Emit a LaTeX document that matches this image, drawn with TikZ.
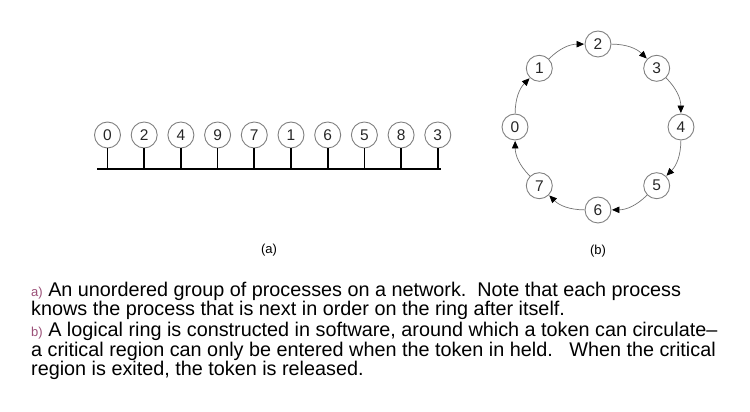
\documentclass[tikz,border=0pt]{standalone}
\usepackage{fontspec}
\setmainfont{Liberation Sans}
\usetikzlibrary{positioning, arrows.meta, calc}
\definecolor{tagcol}{RGB}{155,80,120}
\newcommand{\tagl}[1]{{\fontsize{13}{13}\selectfont\color{tagcol}#1)}}

\begin{document}
\begin{tikzpicture}[x=1pt,y=1pt]
			\tikzset{
			proc/.style={
					circle, draw=black!50, line width=0.9pt, minimum size=26pt, inner sep=0pt,
					font=\fontsize{15.5}{15.5}\selectfont, text=black!85,
				},
			tap/.style={line width=1.7pt},
			busline/.style={line width=1.8pt},
			pass/.style={
			draw=black!55, line width=0.7pt, -{Triangle[length=7.5pt,width=6.5pt,black]}, shorten >=0.5pt, },
			caption/.style={font=\fontsize{13}{13}\selectfont},
			para/.style={anchor=base west, inner sep=0pt, font=\fontsize{19.8}{20}\selectfont},
			}
			\useasboundingbox (0,0) rectangle (750,412);

			% (a) processes on a network
			\node[proc] (p0) at (107.5,277) {0};
			\node[proc,right=9.8pt of p0] (p2) {2};
			\node[proc,right=9.8pt of p2] (p4) {4};
			\node[proc,right=9.8pt of p4] (p9) {9};
			\node[proc,right=9.8pt of p9] (p7) {7};
			\node[proc,right=9.8pt of p7] (p1) {1};
			\node[proc,right=9.8pt of p1] (p6) {6};
			\node[proc,right=9.8pt of p6] (p5) {5};
			\node[proc,right=9.8pt of p5] (p8) {8};
			\node[proc,right=9.8pt of p8] (p3) {3};
			\coordinate (busL) at (97,243);
			\coordinate (busR) at (441,243);
			\draw[busline] (busL) -- (busR);
			\foreach \p in {p0,p2,p4,p9,p7,p1,p6,p5,p8,p3}
				\draw[tap] (\p.south) -- (\p.south |- busL);

			% (b) logical ring
			\coordinate (hub) at (598,285);
			\node[proc] (r0) at ($(hub)+(180:83)$) {0};
			\node[proc] (r1) at ($(hub)+(135:83)$) {1};
			\node[proc] (r2) at ($(hub)+(90:83)$) {2};
			\node[proc] (r3) at ($(hub)+(45:83)$) {3};
			\node[proc] (r4) at ($(hub)+(0:83)$) {4};
			\node[proc] (r5) at ($(hub)+(-45:83)$) {5};
			\node[proc] (r6) at ($(hub)+(-90:83)$) {6};
			\node[proc] (r7) at ($(hub)+(-135:83)$) {7};
			\draw[pass] (r0) to[bend left=22] (r1);
			\draw[pass] (r1) to[bend left=22] (r2);
			\draw[pass] (r2) to[bend left=22] (r3);
			\draw[pass] (r3) to[bend left=22] (r4);
			\draw[pass] (r4) to[bend left=22] (r5);
			\draw[pass] (r5) to[bend left=22] (r6);
			\draw[pass] (r6) to[bend left=22] (r7);
			\draw[pass] (r7) to[bend left=22] (r0);

			\node[caption] (capa) at (269,162) {(a)};
			\node[caption] (capb) at (598,161) {(b)};

			% explanation
			\node[para] (l1) at (31,115.3) {\tagl{a} An unordered group of processes on a network.\ \ Note that each process};
			\node[para] (l2) at (31,96) {knows the process that is next in order on the ring after itself.};
			\node[para] (l3) at (31,75) {\tagl{b} A logical ring is constructed in software, around which a token can circulate–};
			\node[para] (l4) at (31,55) {a critical region can only be entered when the token in held.\ \ \ When the critical};
			\node[para] (l5) at (31,36) {region is exited, the token is released.};
		\end{tikzpicture}
\end{document}
